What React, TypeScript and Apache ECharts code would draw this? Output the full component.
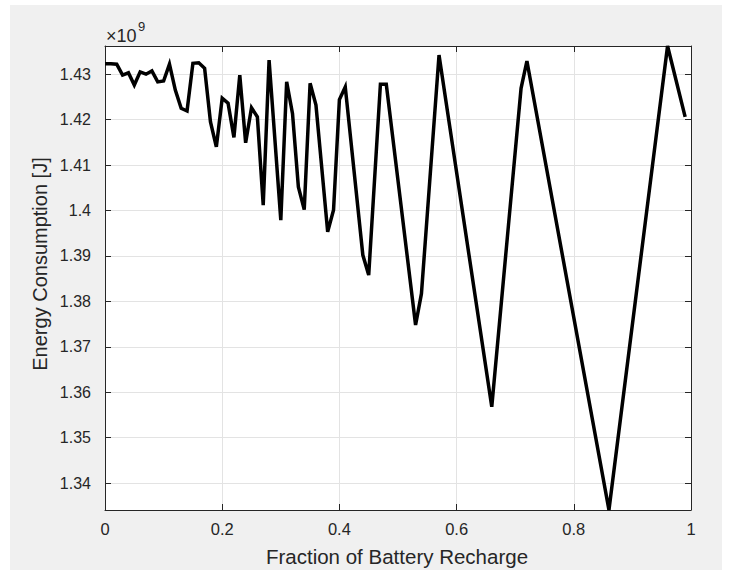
import React, { useEffect, useRef } from "react";
import * as echarts from "echarts";

// Vertices of the plotted curve (x = fraction of battery recharge, y = energy in units of 1e9 J)
const fraction = [
  0, 0.01, 0.02, 0.03, 0.04, 0.05, 0.06, 0.07, 0.08, 0.09, 0.1, 0.11, 0.12, 0.13, 0.14,
  0.15, 0.16, 0.17, 0.18, 0.19, 0.2, 0.21, 0.22, 0.23, 0.24, 0.25, 0.26, 0.27, 0.28,
  0.3, 0.31, 0.32, 0.33, 0.34, 0.35, 0.36, 0.38, 0.39, 0.4, 0.41, 0.44, 0.45, 0.47,
  0.48, 0.53, 0.54, 0.57, 0.66, 0.71, 0.72, 0.86, 0.96, 0.99,
];
const energyE9 = [
  1.4323, 1.4323, 1.4322, 1.4298, 1.4303, 1.4276, 1.4305, 1.43, 1.4307, 1.4283, 1.4285,
  1.4322, 1.4265, 1.4225, 1.4219, 1.4324, 1.4325, 1.4313, 1.4195, 1.414, 1.4247, 1.4236,
  1.4161, 1.4298, 1.4149, 1.4226, 1.4206, 1.4012, 1.4331, 1.3979, 1.4283, 1.4213, 1.4052,
  1.4002, 1.428, 1.4232, 1.3953, 1.4001, 1.4244, 1.4272, 1.3902, 1.3858, 1.4278, 1.4278,
  1.3748, 1.3817, 1.4342, 1.3568, 1.4269, 1.4329, 1.3341, 1.4362, 1.4206,
];
const xTicks = [0, 0.2, 0.4, 0.6, 0.8, 1];
const yTicks = [1.34, 1.35, 1.36, 1.37, 1.38, 1.39, 1.4, 1.41, 1.42, 1.43];
const yMin = 1.3341;
const yMax = 1.4362;

const FONT = "'Liberation Sans', Arial, Helvetica, sans-serif";
const AX = "#262626";
const GRID = "#e3e3e3";

export default function App() {
  const ref = useRef<HTMLDivElement>(null);
  useEffect(() => {
    if (!ref.current) return;
    const chart = echarts.init(ref.current, null, { renderer: "svg" });
    const fmtY = (v: number) => String(Number(v.toFixed(2)));
    const fmtX = (v: number) => String(Number(v.toFixed(1)));
    const data = fraction.map((x, i) => [x, energyE9[i]]);
    chart.setOption({
      animation: false,
      backgroundColor: "#f0f0f0",
      textStyle: { fontFamily: FONT },
      grid: {
        left: 95,
        top: 41,
        width: 586,
        height: 464,
        show: true,
        backgroundColor: "#ffffff",
        borderWidth: 0,
      },
      xAxis: [
        {
          type: "value",
          min: 0,
          max: 1,
          interval: 0.2,
          axisLine: { show: true, onZero: false, lineStyle: { color: AX, width: 1 } },
          axisTick: { show: true, inside: true, length: 6, lineStyle: { color: AX }, customValues: xTicks },
          axisLabel: { color: AX, fontSize: 16.5, margin: 10, formatter: fmtX, fontFamily: FONT, customValues: xTicks },
          splitLine: { show: true, lineStyle: { color: GRID, width: 1 } },
        },
        {
          type: "value",
          position: "top",
          min: 0,
          max: 1,
          interval: 0.2,
          axisLine: { show: true, onZero: false, lineStyle: { color: AX, width: 1 } },
          axisTick: { show: true, inside: true, length: 6, lineStyle: { color: AX } },
          axisLabel: { show: false },
          splitLine: { show: false },
        },
      ],
      yAxis: [
        {
          type: "value",
          min: yMin,
          max: yMax,
          axisLine: { show: true, onZero: false, lineStyle: { color: AX, width: 1 } },
          axisTick: { show: true, inside: true, length: 6, lineStyle: { color: AX }, customValues: yTicks },
          axisLabel: {
            color: AX,
            fontSize: 16,
            margin: 14,
            formatter: fmtY,
            fontFamily: FONT,
            customValues: yTicks,
          },
          splitLine: { show: true, lineStyle: { color: GRID, width: 1 } },
        },
        {
          type: "value",
          position: "right",
          min: yMin,
          max: yMax,
          axisLine: { show: true, onZero: false, lineStyle: { color: AX, width: 1 } },
          axisTick: { show: true, inside: true, length: 6, lineStyle: { color: AX }, customValues: yTicks },
          axisLabel: { show: false, customValues: yTicks },
          splitLine: { show: false },
        },
      ],
      series: [
        {
          type: "line",
          xAxisIndex: 0,
          yAxisIndex: 0,
          data,
          showSymbol: false,
          symbol: "none",
          lineStyle: { color: "#000000", width: 3.5, join: "miter" },
          clip: false,
          z: 5,
        },
      ],
      graphic: [
        {
          type: "text",
          left: 96,
          top: 22,
          style: { text: "×10", fontSize: 18, fill: AX, fontFamily: FONT },
        },
        {
          type: "text",
          left: 128,
          top: 15,
          style: { text: "9", fontSize: 13, fill: AX, fontFamily: FONT },
        },
        {
          type: "text",
          x: 387,
          y: 551,
          style: {
            text: "Fraction of Battery Recharge",
            fontSize: 20.5,
            fill: AX,
            fontFamily: FONT,
            align: "center",
            verticalAlign: "middle",
          },
        },
        {
          type: "text",
          x: 30,
          y: 259,
          rotation: Math.PI / 2,
          style: {
            text: "Energy Consumption [J]",
            fontSize: 20,
            fill: AX,
            fontFamily: FONT,
            align: "center",
            verticalAlign: "middle",
          },
        },
      ],
    });
    return () => chart.dispose();
  }, []);
  return (
    <div style={{ position: "fixed", left: 0, top: 0, width: 731, height: 570, background: "#ffffff" }}>
      <div ref={ref} style={{ position: "absolute", left: 10, top: 5, width: 712, height: 565 }} />
    </div>
  );
}
